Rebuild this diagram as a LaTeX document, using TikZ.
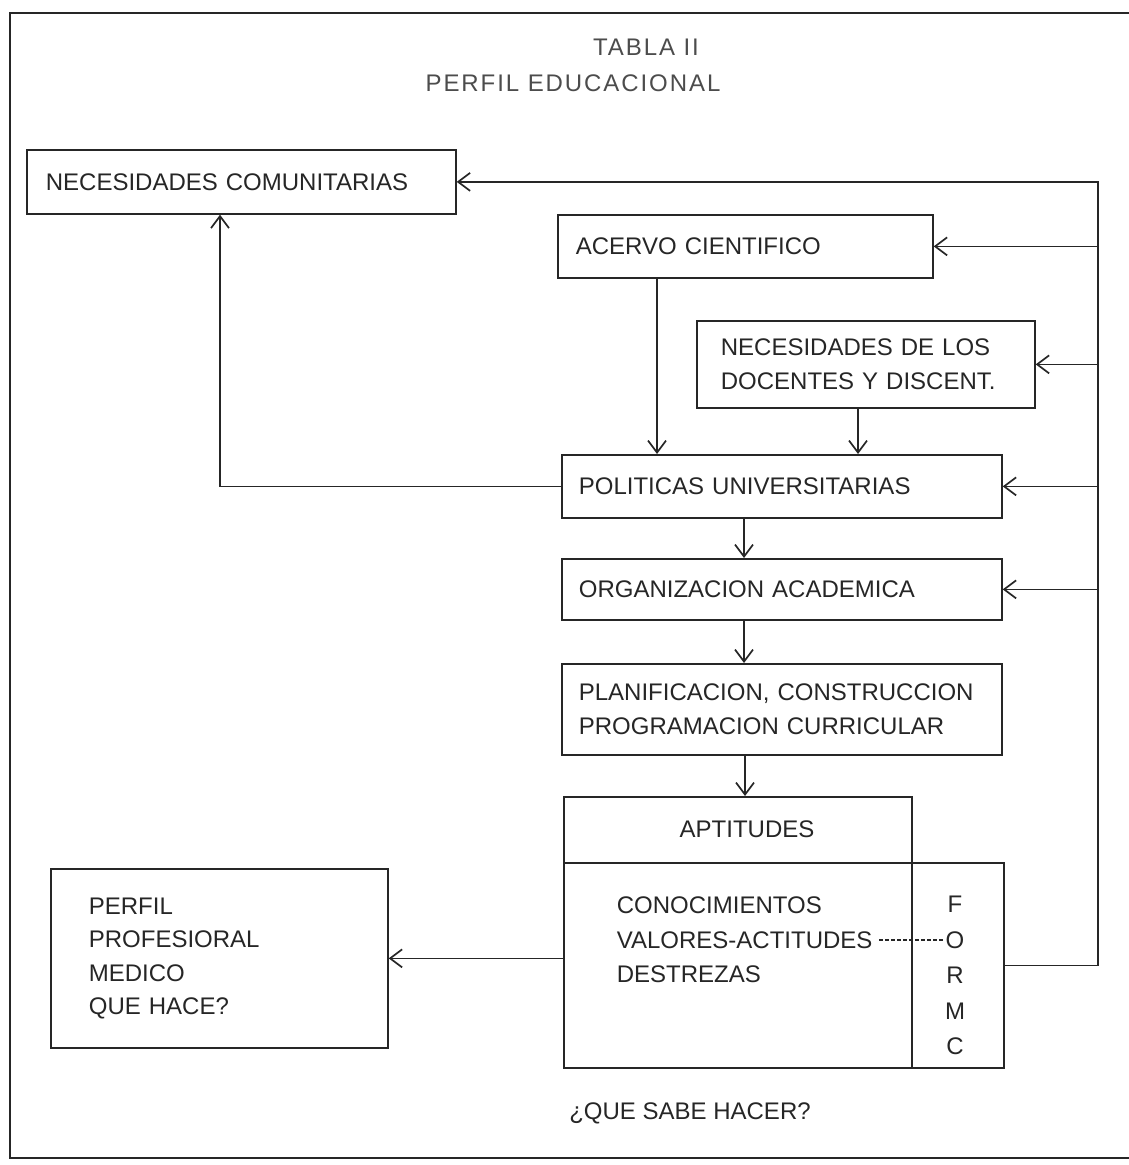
\documentclass[tikz,border=0pt]{standalone}
\usepackage{fontspec}
\setmainfont{Liberation Sans}
\usetikzlibrary{arrows.meta}
\begin{document}
\begin{tikzpicture}[x=1pt,y=-1pt,line width=1.7pt,
  ink/.style={draw=black!85},
  arr/.style={ink,-{Straight Barb[length=12pt,width=18pt]}},
  box/.style={ink,rectangle,anchor=north west,inner ysep=0pt,align=left,
    text=black!85,font=\fontsize{24}{33.5}\selectfont},
  txt/.style={text=black!85,font=\fontsize{24}{33.5}\selectfont,inner sep=0pt},
  ttl/.style={text=black!70,font=\fontsize{24}{28}\selectfont\addfontfeatures{LetterSpace=8},inner sep=0pt}]
\useasboundingbox (0,0) rectangle (1128,1165);
% outer frame
\draw[ink] (1140,13) -- (10,13) -- (10,1158) -- (1140,1158);
% title
\node[ttl] (t1) at (646,47) {TABLA II};
\node[ttl] (t2) at (573,83) {PERFIL EDUCACIONAL};
% boxes
\node[box,minimum width=429pt,minimum height=64pt,inner xsep=19pt,text width=391pt] (neccom) at (26,149) {NECESIDADES COMUNITARIAS};
\node[box,minimum width=375pt,minimum height=63pt,inner xsep=18pt,text width=339pt] (acervo) at (557,214) {ACERVO CIENTIFICO};
\node[box,minimum width=338pt,minimum height=87pt,inner xsep=24pt,text width=290pt] (necdoc) at (696,320) {NECESIDADES DE LOS\\DOCENTES Y DISCENT.};
\node[box,minimum width=440pt,minimum height=63pt,inner xsep=17pt,text width=406pt] (polit) at (561,454) {POLITICAS UNIVERSITARIAS};
\node[box,minimum width=440pt,minimum height=61pt,inner xsep=17pt,text width=406pt] (organ) at (561,558) {ORGANIZACION ACADEMICA};
\node[box,minimum width=440pt,minimum height=91pt,inner xsep=17pt,text width=406pt] (plan) at (561,663) {PLANIFICACION, CONSTRUCCION\\PROGRAMACION CURRICULAR};
\node[box,minimum width=348pt,minimum height=66pt,inner xsep=0pt] (aptt) at (563,796) {};
\node[txt] (apttext) at (747,829) {APTITUDES};
\node[box,minimum width=348pt,minimum height=205pt,inner xsep=0pt] (aptb) at (563,862) {};
\node[txt,anchor=west] (conoc) at (616,905) {CONOCIMIENTOS};
\node[txt,anchor=west] (valores) at (616,940) {VALORES-ACTITUDES};
\node[txt,anchor=west] (destr) at (616,974) {DESTREZAS};
\node[box,minimum width=92pt,minimum height=205pt,inner xsep=0pt] (formc) at (911,862) {};
\node[txt] (lf) at (955,904) {F};
\node[txt] (lo) at (955,940) {O};
\node[txt] (lr) at (955,975) {R};
\node[txt] (lm) at (955,1011) {M};
\node[txt] (lc) at (955,1046) {C};
\node[box,minimum width=337pt,minimum height=179pt,inner xsep=38pt,text width=261pt] (perfil) at (50,868) {PERFIL\\PROFESIORAL\\MEDICO\\QUE HACE?};
\node[txt] (qsh) at (690,1113) {¿QUE SABE HACER?};
% connectors
\coordinate (tx) at (1098,0);
\draw[arr] (formc.east) -| (tx |- neccom.east) -- (neccom.east);
\draw[arr] (tx |- acervo.east) -- (acervo.east);
\draw[arr] (tx |- necdoc.east) -- (necdoc.east);
\draw[arr] (tx |- polit.east) -- (polit.east);
\draw[arr] (tx |- organ.east) -- (organ.east);
\draw[arr] (polit.west) -| ([xshift=194pt]neccom.south west);
\draw[arr] ([xshift=100pt]acervo.south west) coordinate (a1) -- (a1 |- polit.north);
\draw[arr] ([xshift=162pt]necdoc.south west) coordinate (a2) -- (a2 |- polit.north);
\draw[arr] ([xshift=183pt]polit.south west) coordinate (a3) -- (a3 |- organ.north);
\draw[arr] ([xshift=183pt]organ.south west) coordinate (a4) -- (a4 |- plan.north);
\draw[arr] ([xshift=184pt]plan.south west) coordinate (a5) -- (a5 |- aptt.north);
\draw[arr] (perfil.east -| aptb.west) -- (perfil.east);
\draw[ink,line width=1.2pt,dash pattern=on 4pt off 2pt] ([xshift=6pt]valores.east) -- ([xshift=-2pt]lo.west);
\end{tikzpicture}
\end{document}
